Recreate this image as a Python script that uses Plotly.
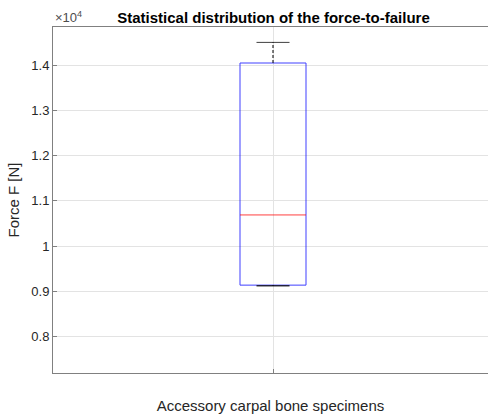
import plotly.graph_objects as go

# Data (force in N)
category = ["Accessory carpal bone specimens"]
q1 = [9140]
median = [10690]
q3 = [14045]
lower_whisker = [9125]
upper_whisker = [14500]

y_tickvals = [8000, 9000, 10000, 11000, 12000, 13000, 14000]
y_ticktext = ["0.8", "0.9", "1", "1.1", "1.2", "1.3", "1.4"]

xpos = 1.0
half_w = 0.075
cap_w = 0.0375

fig = go.Figure()

# box outline
fig.add_trace(go.Scatter(
    x=[xpos - half_w, xpos + half_w, xpos + half_w, xpos - half_w, xpos - half_w],
    y=[q1[0], q1[0], q3[0], q3[0], q1[0]],
    mode="lines", line=dict(color="#0000ff", width=1), opacity=0.75,
    hoverinfo="skip", showlegend=False))
# median
fig.add_trace(go.Scatter(
    x=[xpos - half_w, xpos + half_w], y=[median[0], median[0]],
    mode="lines", line=dict(color="#ff0000", width=1), opacity=0.75,
    showlegend=False))
# whiskers (dashed)
fig.add_trace(go.Scatter(
    x=[xpos, xpos], y=[q3[0], upper_whisker[0]],
    mode="lines", line=dict(color="#000000", width=1, dash="3px,2px"),
    showlegend=False))
fig.add_trace(go.Scatter(
    x=[xpos, xpos], y=[q1[0], lower_whisker[0]],
    mode="lines", line=dict(color="#000000", width=1, dash="3px,2px"),
    showlegend=False))
# caps
fig.add_trace(go.Scatter(
    x=[xpos - cap_w, xpos + cap_w], y=[upper_whisker[0], upper_whisker[0]],
    mode="lines", line=dict(color="#000000", width=1), opacity=0.75,
    showlegend=False))
fig.add_trace(go.Scatter(
    x=[xpos - cap_w, xpos + cap_w], y=[lower_whisker[0], lower_whisker[0]],
    mode="lines", line=dict(color="#000000", width=1.5), opacity=0.75,
    showlegend=False))

font_family = "Liberation Sans, Arial, sans-serif"

fig.update_layout(
    width=488, height=414,
    margin=dict(l=53, r=0, t=27, b=41),
    paper_bgcolor="white", plot_bgcolor="white",
    font=dict(family=font_family, size=13, color="#262626"),
    title=dict(text="<b>Statistical distribution of the force-to-failure</b>",
               x=273.5 / 488, xanchor="center", y=1 - 17.5 / 414, yanchor="middle",
               font=dict(size=15, color="#000000")),
    xaxis=dict(range=[0.5, 1.4886], tickvals=[1], ticktext=[""],
               showgrid=True, gridcolor="#e3e3e3", gridwidth=1,
               showline=True, linecolor="#808080", linewidth=1, mirror=True,
               ticks="inside", ticklen=4, tickcolor="#808080",
               zeroline=False,
               title=dict(text=category[0], standoff=24,
                          font=dict(size=15, color="#262626"))),
    yaxis=dict(range=[7200, 14840], tickvals=y_tickvals, ticktext=y_ticktext,
               showgrid=True, gridcolor="#e3e3e3", gridwidth=1,
               showline=True, linecolor="#808080", linewidth=1, mirror=False,
               ticks="inside", ticklen=4, tickcolor="#808080",
               zeroline=False,
               title=dict(text="Force F [N]", standoff=8,
                          font=dict(size=15, color="#262626"))),
    annotations=[dict(text="×10<sup>4</sup>", xref="paper", yref="paper",
                      x=0, y=1, xanchor="left", yanchor="bottom",
                      showarrow=False, font=dict(size=13, color="#4d4d4d"))],
)

fig.write_html("out.html")
